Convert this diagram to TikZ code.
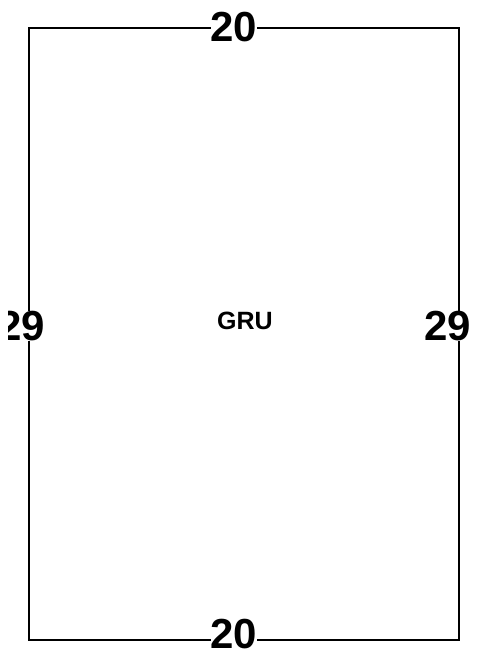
\documentclass[tikz,border=0pt]{standalone}
\usepackage{fontspec}
\setmainfont{Liberation Sans}
\begin{document}
\begin{tikzpicture}[x=1pt,y=1pt,
  dim/.style={font=\fontsize{42}{42}\selectfont\bfseries, fill=white, inner sep=0pt},
  lbl/.style={font=\fontsize{25}{25}\selectfont\bfseries, inner sep=0pt}]
\useasboundingbox (0,0) rectangle (478,656);
\coordinate (tl) at (29,628);
\coordinate (tr) at (459,628);
\coordinate (br) at (459,16);
\coordinate (bl) at (29,16);
\draw[line width=2pt] (tl) -- (tr) -- (br) -- (bl) -- cycle;
\node[dim] (top) at (234,629) {20};
\node[dim] (bot) at (234,22) {20};
\begin{scope}
\clip (8,0) rectangle (478,656);
\node[dim] (left) at (22,330) {29};
\end{scope}
\node[dim] (right) at (448,330) {29};
\node[lbl] (gru) at (245,335) {GRU};
\end{tikzpicture}
\end{document}
